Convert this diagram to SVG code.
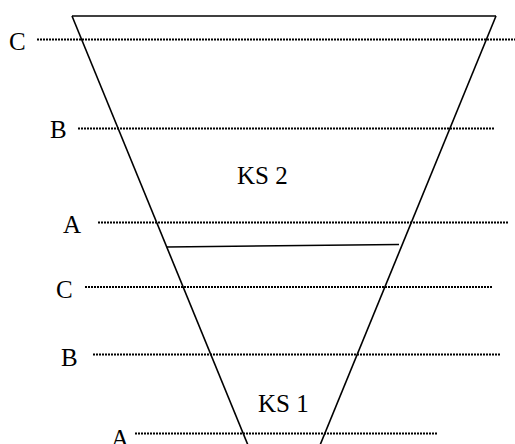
<svg xmlns="http://www.w3.org/2000/svg" width="515" height="444" viewBox="0 0 515 444">
  <style>
    .solid { stroke: #000; stroke-width: 1.6; fill: none; }
    .dot { stroke: #000; stroke-width: 2; stroke-dasharray: 2 1; fill: none; }
    .lbl { font-family: "Liberation Serif", "Times New Roman", serif; font-size: 25px; fill: #000; }
  </style>
  <rect width="515" height="444" fill="#fff"/>
  <g id="levels">
    <line class="dot" x1="37" y1="39.5" x2="515" y2="39.5"/>
    <line class="dot" x1="78" y1="128.5" x2="495" y2="128.5"/>
    <line class="dot" x1="98" y1="222.5" x2="508" y2="222.5"/>
    <line class="dot" x1="85" y1="287" x2="493" y2="287"/>
    <line class="dot" x1="93" y1="354.5" x2="501" y2="354.5"/>
    <line class="dot" x1="135" y1="433.5" x2="437" y2="433.5"/>
  </g>
  <g id="funnel">
    <line class="solid" x1="72" y1="16" x2="496" y2="16"/>
    <line class="solid" x1="72" y1="16" x2="250.8" y2="452"/>
    <line class="solid" x1="496" y1="16" x2="317.2" y2="452"/>
    <line class="solid" x1="167" y1="247" x2="399" y2="244.5"/>
  </g>
  <g id="labels">
    <text class="lbl" x="9" y="50">C</text>
    <text class="lbl" x="50" y="138">B</text>
    <text class="lbl" x="237" y="184">KS 2</text>
    <text class="lbl" x="63" y="232.5">A</text>
    <text class="lbl" x="56" y="298">C</text>
    <text class="lbl" x="61" y="365.5">B</text>
    <text class="lbl" x="258" y="411.5">KS 1</text>
    <text class="lbl" x="111" y="446.5">A</text>
  </g>
</svg>
